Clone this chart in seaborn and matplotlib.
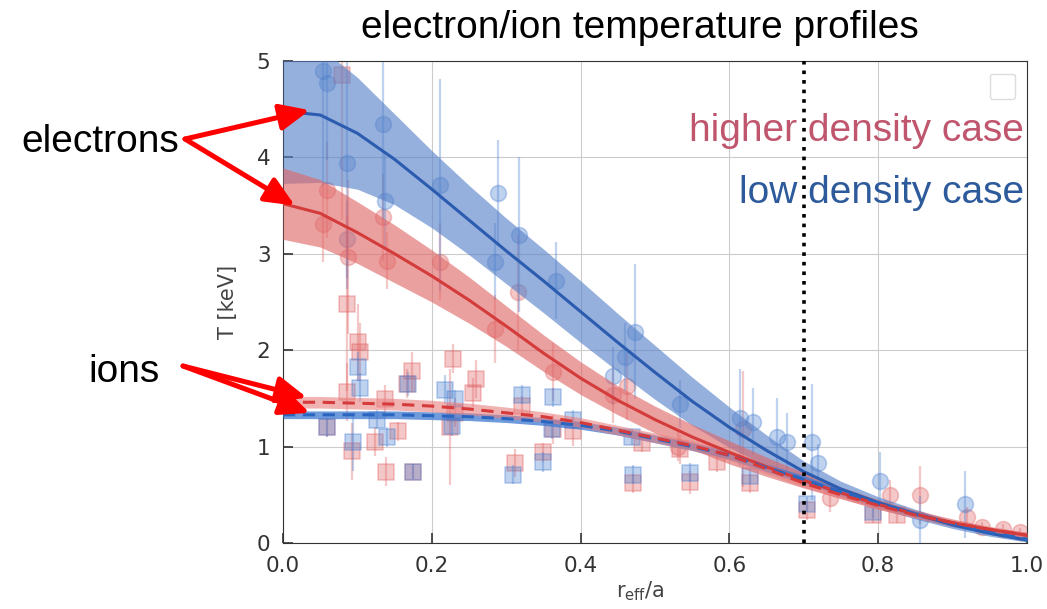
import numpy as np
import matplotlib
matplotlib.use("Agg")
import matplotlib.pyplot as plt
import seaborn as sns

# ---- data ----
# fitted profiles on a grid of r_eff/a
r_grid = [0.0, 0.05, 0.1, 0.15, 0.2, 0.25, 0.3, 0.35, 0.4, 0.45, 0.5,
          0.55, 0.6, 0.65, 0.7, 0.75, 0.8, 0.85, 0.9, 0.95, 1.0]

te_low = [4.48, 4.44, 4.25, 3.98, 3.67, 3.35, 3.03, 2.72, 2.40, 2.08, 1.77,
          1.47, 1.20, 0.96, 0.74, 0.56, 0.42, 0.30, 0.19, 0.10, 0.03]
te_low_err = [0.75, 0.70, 0.58, 0.47, 0.40, 0.36, 0.34, 0.33, 0.32, 0.30, 0.28,
              0.25, 0.21, 0.16, 0.11, 0.08, 0.06, 0.05, 0.04, 0.03, 0.02]

te_high = [3.52, 3.42, 3.22, 3.00, 2.77, 2.52, 2.25, 1.97, 1.71, 1.48, 1.28,
           1.10, 0.94, 0.79, 0.65, 0.52, 0.40, 0.30, 0.21, 0.14, 0.08]
te_high_err = [0.37, 0.35, 0.32, 0.30, 0.27, 0.24, 0.21, 0.19, 0.17, 0.15, 0.14,
               0.13, 0.12, 0.10, 0.08, 0.06, 0.05, 0.04, 0.04, 0.03, 0.03]

ti_high = [1.46, 1.46, 1.45, 1.44, 1.42, 1.39, 1.35, 1.31, 1.25, 1.17, 1.09,
           1.01, 0.91, 0.77, 0.62, 0.50, 0.39, 0.29, 0.21, 0.14, 0.08]
ti_high_err = [0.06, 0.06, 0.06, 0.06, 0.06, 0.06, 0.06, 0.05, 0.05, 0.05, 0.05,
               0.05, 0.05, 0.05, 0.04, 0.04, 0.04, 0.03, 0.03, 0.03, 0.03]

ti_low = [1.33, 1.33, 1.33, 1.33, 1.32, 1.31, 1.29, 1.26, 1.22, 1.16, 1.08,
          1.00, 0.91, 0.78, 0.66, 0.53, 0.41, 0.30, 0.20, 0.11, 0.04]
ti_low_err = [0.04, 0.04, 0.04, 0.04, 0.04, 0.04, 0.04, 0.04, 0.04, 0.04, 0.04,
              0.04, 0.04, 0.04, 0.04, 0.03, 0.03, 0.03, 0.03, 0.02, 0.02]

# measured points: electrons (circles)
e_low_r = [0.054, 0.059, 0.086, 0.134, 0.137, 0.211, 0.086, 0.289, 0.285, 0.317,
           0.367, 0.444, 0.46, 0.473, 0.534, 0.614, 0.632, 0.664, 0.677, 0.711,
           0.719, 0.802, 0.856, 0.917]
e_low_t = [4.90, 4.77, 3.94, 4.35, 3.55, 3.71, 3.15, 3.63, 2.92, 3.20,
           2.72, 1.73, 1.93, 2.19, 1.44, 1.30, 1.26, 1.10, 1.05, 1.05,
           0.83, 0.64, 0.24, 0.40]
e_low_dt = [1.2, 0.8, 1.3, 1.0, 0.5, 1.1, 0.4, 0.55, 0.4, 0.8,
            0.4, 0.3, 0.35, 0.7, 0.25, 0.5, 0.35, 0.4, 0.3, 0.6,
            0.2, 0.3, 0.25, 0.35]

e_high_r = [0.059, 0.054, 0.134, 0.087, 0.14, 0.211, 0.316, 0.285, 0.363, 0.462,
            0.444, 0.531, 0.618, 0.735, 0.816, 0.856, 0.919, 0.94, 0.968, 0.99]
e_high_t = [3.66, 3.31, 3.38, 2.97, 2.93, 2.92, 2.60, 2.22, 1.77, 1.63,
            1.54, 1.00, 1.18, 0.47, 0.50, 0.50, 0.27, 0.17, 0.15, 0.11]
e_high_dt = [0.5, 0.4, 0.45, 0.8, 0.3, 0.4, 0.6, 0.35, 0.3, 0.35,
             0.3, 0.15, 0.6, 0.15, 0.15, 0.3, 0.1, 0.05, 0.05, 0.05]

# measured points: ions (squares)
i_high_r = [0.079, 0.086, 0.101, 0.104, 0.086, 0.173, 0.167, 0.137, 0.059, 0.093,
            0.124, 0.155, 0.138, 0.175, 0.229, 0.224, 0.231, 0.26, 0.256, 0.321,
            0.312, 0.35, 0.363, 0.39, 0.47, 0.482, 0.547, 0.534, 0.583, 0.628,
            0.704, 0.793, 0.825]
i_high_t = [4.85, 2.48, 2.08, 1.98, 1.57, 1.78, 1.65, 1.49, 1.20, 0.95,
            1.05, 1.16, 0.74, 0.74, 1.91, 1.20, 1.35, 1.70, 1.56, 1.42,
            0.83, 0.94, 1.18, 1.16, 0.62, 1.04, 0.63, 0.97, 0.84, 0.62,
            0.34, 0.29, 0.29]
i_high_dt = [1.5, 0.9, 0.4, 0.3, 0.3, 0.2, 0.15, 0.15, 0.1, 0.3,
             0.15, 0.1, 0.15, 0.08, 0.15, 0.6, 0.15, 0.2, 0.15, 0.1,
             0.15, 0.1, 0.15, 0.15, 0.1, 0.1, 0.12, 0.15, 0.1, 0.1,
             0.1, 0.08, 0.08]

i_low_r = [0.101, 0.104, 0.094, 0.059, 0.126, 0.14, 0.168, 0.175, 0.218, 0.227,
           0.231, 0.321, 0.309, 0.35, 0.363, 0.362, 0.39, 0.47, 0.469, 0.547,
           0.628, 0.704, 0.793]
i_low_t = [1.83, 1.61, 1.05, 1.20, 1.28, 1.10, 1.65, 0.74, 1.59, 1.21,
           1.49, 1.54, 0.71, 0.84, 1.51, 1.18, 1.28, 0.71, 1.10, 0.73,
           0.69, 0.40, 0.32]
i_low_dt = [0.15, 0.15, 0.3, 0.1, 0.1, 0.1, 0.12, 0.08, 0.15, 0.1,
            0.1, 0.1, 0.1, 0.1, 0.1, 0.1, 0.1, 0.1, 0.08, 0.1,
            0.08, 0.08, 0.06]

x_ticks = [0.0, 0.2, 0.4, 0.6, 0.8, 1.0]
y_ticks = [0, 1, 2, 3, 4, 5]
r_separatrix = 0.7

# colours
BLUE_LINE = "#2c5cb0"
BLUE_FILL = "#5580c8"
BLUE_PT = "#4a7fd0"
RED_LINE = "#d43b3b"
RED_FILL = "#e06666"
RED_PT = "#e06262"

W, H = 1047, 609


def px(x, y):
    # figure fraction from pixel position (top-left origin)
    return x / W, 1 - y / H


sns.set_style("whitegrid", rc={
    "axes.edgecolor": "#333333",
    "axes.linewidth": 2.0,
    "grid.color": "#cccccc",
    "grid.linewidth": 1.2,
    "xtick.direction": "in",
    "ytick.direction": "in",
    "xtick.bottom": True,
    "ytick.left": True,
})
plt.rcParams["font.family"] = ["DejaVu Sans"]

fig = plt.figure(figsize=(W / 100, H / 100), dpi=100)
ax = fig.add_axes([283 / W, 1 - 543 / H, 744 / W, 482 / H])

# measured points with error bars
def draw_points(r, t, dt, color, marker, size):
    ax.errorbar(r, t, yerr=dt, fmt="none", ecolor=color, alpha=0.35,
                elinewidth=1.6, zorder=2)
    sns.scatterplot(x=r, y=t, ax=ax, marker=marker, s=size, color=color,
                    alpha=0.35, edgecolor=color, linewidth=1.2, zorder=2,
                    legend=False)

draw_points(e_high_r, e_high_t, e_high_dt, RED_PT, "o", 130)
draw_points(e_low_r, e_low_t, e_low_dt, BLUE_PT, "o", 130)
draw_points(i_high_r, i_high_t, i_high_dt, RED_PT, "s", 140)
draw_points(i_low_r, i_low_t, i_low_dt, BLUE_PT, "s", 140)

# fitted profiles with uncertainty bands
def draw_fit(center, half, line_color, fill_color, fill_alpha, ls):
    c = np.array(center)
    h = np.array(half)
    ax.fill_between(r_grid, c - h, c + h, color=fill_color, alpha=fill_alpha,
                    linewidth=0, zorder=3)
    sns.lineplot(x=r_grid, y=center, ax=ax, color=line_color, lw=2.2,
                 linestyle=ls, zorder=4)

draw_fit(te_low, te_low_err, BLUE_LINE, BLUE_FILL, 0.62, "-")
draw_fit(te_high, te_high_err, RED_LINE, RED_FILL, 0.62, "-")
draw_fit(ti_low, ti_low_err, "#2a66c0", "#3f78d0", 0.75, (0, (4, 2.5)))
draw_fit(ti_high, ti_high_err, "#d63a3a", "#e88080", 0.6, (0, (4, 2.5)))

ax.axvline(r_separatrix, color="black", linestyle=":", lw=2.6, zorder=5)

ax.set_xlim(0, 1)
ax.set_ylim(0, 5)
ax.set_xticks(x_ticks)
ax.set_yticks(y_ticks)
ax.set_xticklabels([f"{v:.1f}" for v in x_ticks])
ax.tick_params(labelsize=15.5, colors="#333333", length=7, width=1.2, pad=9)
ax.set_xlabel(r"r$_\mathrm{eff}$/a", fontsize=15, color="#444444")
ax.set_ylabel("T [keV]", fontsize=15, color="#444444")
ax.xaxis.set_label_coords((640 - 283) / 744, -0.075)
ax.yaxis.set_label_coords(-0.06, 0.5)

# empty legend box in the corner
ax.legend(handles=[], loc="upper right", framealpha=1, edgecolor="#dddddd",
          borderpad=0.9, borderaxespad=0.9)

# texts
big = dict(fontsize=28, family=["Liberation Sans", "DejaVu Sans"])
fig.text(*px(640, 38), "electron/ion temperature profiles", ha="center",
         va="baseline", color="black", **big)
fig.text(*px(1024, 141), "higher density case", ha="right", va="baseline",
         color="#c0566e", **big)
fig.text(*px(1024, 203), "low density case", ha="right", va="baseline",
         color="#2d5a9b", **big)
fig.text(*px(21, 152), "electrons", ha="left", va="baseline", color="black",
         **big)
fig.text(*px(88, 382), "ions", ha="left", va="baseline", color="black", **big)

# red arrows from the labels to the profiles
arrow = dict(arrowstyle="-|>,head_length=0.9,head_width=0.4", color="red",
             lw=3.6, mutation_scale=20, shrinkA=0, shrinkB=0)
for tip in [(0.036, 4.49), (0.016, 3.50)]:
    ax.annotate("", xy=tip, xycoords="data", xytext=(185, H - 139),
                textcoords="figure pixels", arrowprops=arrow, zorder=10,
                annotation_clip=False)
for tip in [(0.032, 1.51), (0.036, 1.35)]:
    ax.annotate("", xy=tip, xycoords="data", xytext=(183, H - 366),
                textcoords="figure pixels", arrowprops=arrow, zorder=10,
                annotation_clip=False)

fig.savefig("out.png", dpi=100)
